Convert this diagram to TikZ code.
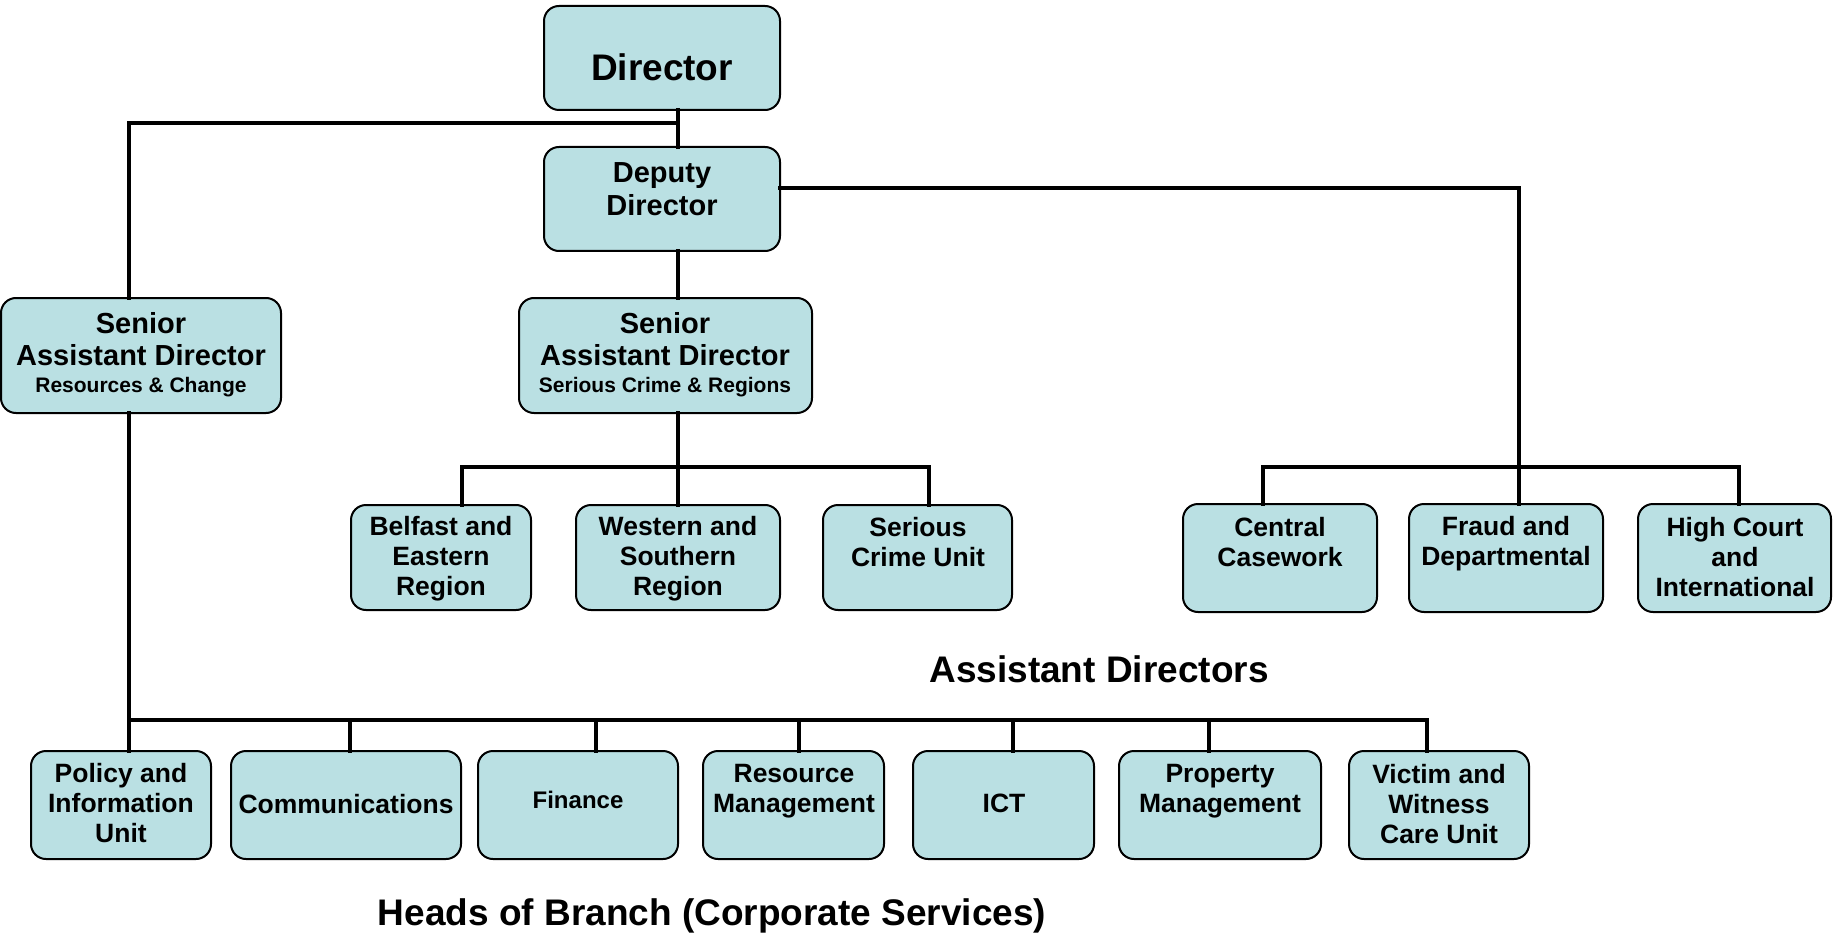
\documentclass[tikz,border=0pt]{standalone}
\usepackage{fontspec}
\setmainfont{Liberation Sans}
\definecolor{boxfill}{HTML}{BAE0E3}
\tikzset{
  orgbox/.style={draw=black, line width=2pt, fill=boxfill, rounded corners=15pt, inner sep=0pt},
  orgtext/.style={inner sep=0pt, align=center, font=\bfseries\fontsize{26.5}{30}\selectfont},
  conn/.style={line width=4pt, line cap=rect},
  title/.style={inner sep=0pt, font=\bfseries\fontsize{37}{40}\selectfont}
}
\newcommand{\orgnode}[5]{% name, x1, y1, x2, y2
  \path[orgbox] (#2,#3) rectangle (#4,#5);
  \node[inner sep=0pt, minimum width=#4-#2, minimum height=#5-#3] (#1) at ({(#2+#4)/2},{(#3+#5)/2}) {};
}
\begin{document}
\begin{tikzpicture}[x=1pt,y=-1pt]
\useasboundingbox (0,0) rectangle (1833,933);

% boxes
\orgnode{dir}{544}{6}{780}{110}
\orgnode{dep}{544}{147}{780}{251}
\orgnode{sadl}{1}{298}{281}{413}
\orgnode{sadm}{519}{298}{812}{413}
\orgnode{bel}{351}{505}{531}{610}
\orgnode{wes}{576}{505}{780}{610}
\orgnode{scu}{823}{505}{1012}{610}
\orgnode{cen}{1183}{504}{1377}{612}
\orgnode{fra}{1409}{504}{1603}{612}
\orgnode{hig}{1638}{504}{1831}{612}
\orgnode{pol}{31}{751}{211}{859}
\orgnode{com}{231}{751}{461}{859}
\orgnode{fin}{478}{751}{678}{859}
\orgnode{res}{703}{751}{884}{859}
\orgnode{ict}{913}{751}{1094}{859}
\orgnode{pro}{1119}{751}{1321}{859}
\orgnode{vic}{1349}{751}{1529}{859}

% texts
\node[orgtext, font=\bfseries\fontsize{37}{40}\selectfont] (tdir) at (662,67) {Director};
\node[orgtext, font=\bfseries\fontsize{29}{33}\selectfont] (tdep) at (662,189) {Deputy\\Director};
\node[orgtext, font=\bfseries\fontsize{29}{32}\selectfont] (tsl1) at (141,339) {Senior\\Assistant Director};
\node[orgtext, font=\bfseries\fontsize{21}{24}\selectfont] (tsl2) at (141,387) {Resources \& Change};
\node[orgtext, font=\bfseries\fontsize{29}{32}\selectfont] (tsm1) at (665,339) {Senior\\Assistant Director};
\node[orgtext, font=\bfseries\fontsize{21}{24}\selectfont] (tsm2) at (665,387) {Serious Crime \& Regions};
\node[orgtext] (tbel) at (441,559) {Belfast and\\Eastern\\Region};
\node[orgtext] (twes) at (678,559) {Western and\\Southern\\Region};
\node[orgtext] (tscu) at (918,542) {Serious\\Crime Unit};
\node[orgtext] (tcen) at (1280,542) {Central\\Casework};
\node[orgtext] (tfra) at (1506,544) {Fraud and\\Departmental};
\node[orgtext] (thig) at (1735,557) {High Court\\and\\International};
\node[orgtext] (tpol) at (121,803) {Policy and\\Information\\Unit};
\node[orgtext] (tcom) at (346,804) {Communications};
\node[orgtext, font=\bfseries\fontsize{24}{28}\selectfont] (tfin) at (578,800) {Finance};
\node[orgtext] (tres) at (794,791) {Resource\\Management};
\node[orgtext] (tict) at (1004,803) {ICT};
\node[orgtext] (tpro) at (1220,791) {Property\\Management};
\node[orgtext] (tvic) at (1439,804) {Victim and\\Witness\\Care Unit};

\node[title] (tad) at (1099,669) {Assistant Directors};
\node[title] (thb) at (712,916) {Heads of Branch (Corporate Services)};

% connector coordinates
\coordinate (jtop) at (678,123);
\coordinate (jleft) at (129,123);
\coordinate (jright) at (1519,188);
\coordinate (jrb) at (1519,467);
\coordinate (jml) at (462,467);
\coordinate (jmr) at (929,467);
\coordinate (jmc) at (678,467);
\coordinate (jrl) at (1263,467);
\coordinate (jrr) at (1739,467);
\coordinate (jbl) at (129,720);
\coordinate (jbr) at (1427,720);

% connectors
\draw[conn] (dir.south -| jtop) -- (dep.north -| jtop);
\draw[conn] (jtop) -- (jleft) -- (sadl.north -| jleft);
\draw[conn] (dep.east |- jright) -- (jright) -- (jrb);
\draw[conn] (jrl) -- (jrr);
\draw[conn] (jrl) -- (cen.north -| jrl);
\draw[conn] (jrb) -- (fra.north -| jrb);
\draw[conn] (jrr) -- (hig.north -| jrr);
\draw[conn] (dep.south -| jmc) -- (sadm.north -| jmc);
\draw[conn] (sadm.south -| jmc) -- (wes.north -| jmc);
\draw[conn] (jml) -- (jmr);
\draw[conn] (jml) -- (bel.north -| jml);
\draw[conn] (jmr) -- (scu.north -| jmr);
\draw[conn] (sadl.south -| jbl) -- (pol.north -| jbl);
\draw[conn] (jbl) -- (jbr) -- (vic.north -| jbr);
\draw[conn] (com.north -| 350,0) -- (350,720);
\draw[conn] (fin.north -| 596,0) -- (596,720);
\draw[conn] (res.north -| 799,0) -- (799,720);
\draw[conn] (ict.north -| 1013,0) -- (1013,720);
\draw[conn] (pro.north -| 1209,0) -- (1209,720);
\end{tikzpicture}
\end{document}
